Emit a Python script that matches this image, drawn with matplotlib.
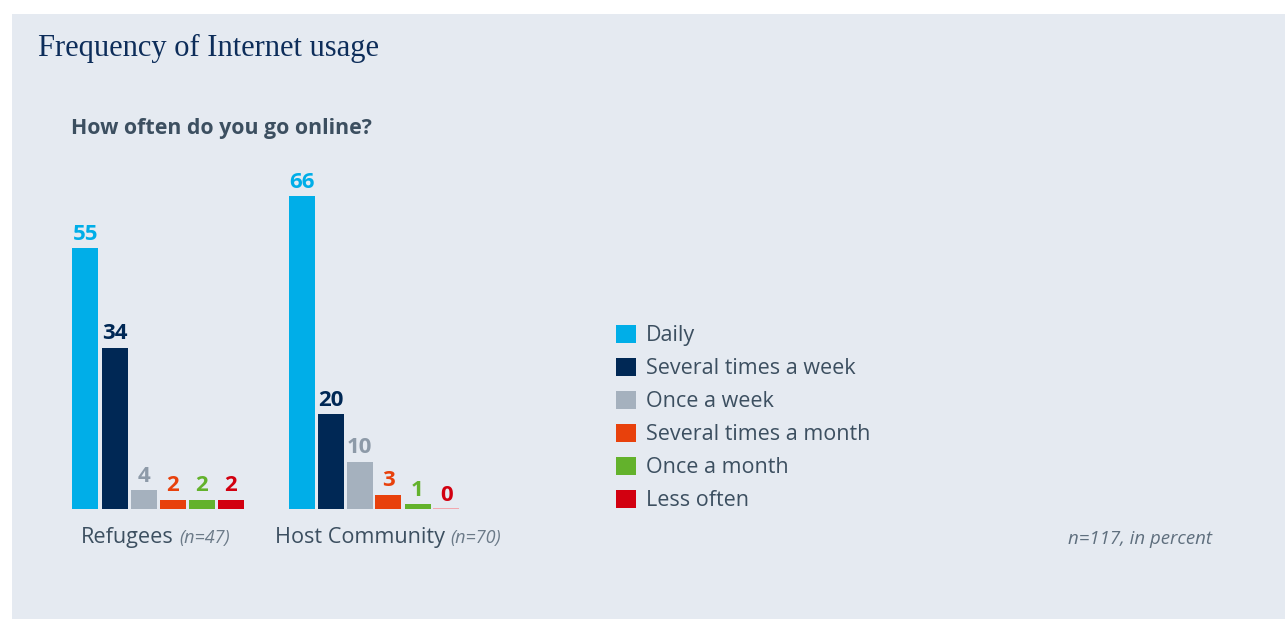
import matplotlib

matplotlib.use('Agg')
import matplotlib.pyplot as plt
from matplotlib.patches import Patch, Rectangle
from matplotlib.offsetbox import TextArea, HPacker, AnnotationBbox

plt.rcParams['font.family'] = ['Open Sans', 'DejaVu Sans']

groups = ['Refugees', 'Host Community']
group_n = ['(n=47)', '(n=70)']
answers = ['Daily', 'Several times a week', 'Once a week',
           'Several times a month', 'Once a month', 'Less often']
refugees = [55, 34, 4, 2, 2, 2]
host_community = [66, 20, 10, 3, 1, 0]

bar_colors = ['#00aee8', '#002855', '#a5b1be', '#e8410c', '#63b22c', '#d20010']
label_colors = ['#00aee8', '#002855', '#8d9aa8', '#e8410c', '#63b22c', '#d20010']

BG = '#e5eaf1'
TEXT = '#3c4f60'

W, H = 1285, 619
fig = plt.figure(figsize=(W / 100, H / 100), dpi=100)
fig.patch.set_facecolor('white')
fig.patches.append(Rectangle((12 / W, 0), 1 - 12 / W, 1 - 14 / H,
                             transform=fig.transFigure, facecolor=BG,
                             edgecolor='none', zorder=-10))

fig.text(38 / W, 1 - 56 / H, 'Frequency of Internet usage',
         family='Liberation Serif', fontsize=22, color='#0d2d5a', va='baseline')
fig.text(71 / W, 1 - 134 / H, 'How often do you go online?',
         fontsize=15.4, fontweight='bold', color=TEXT, va='baseline')
fig.text(1212 / W, 1 - 544 / H, 'n=117, in percent',
         fontsize=13.4, style='italic', color='#5f6f7e', ha='right', va='baseline')

ax = fig.add_axes([50 / W, 110 / H, 432 / W, 332 / H])
ax.set_xlim(-0.5, 1.5)
ax.set_ylim(0, 70)
ax.axis('off')

step = 29 / 216
width = 26 / 216
series = [refugees, host_community]
for gi, vals in enumerate(series):
    for i, v in enumerate(vals):
        x = gi + (i - 2.5) * step
        if v == 0:
            # zero share still gets a faint stub on the baseline
            ax.bar(x, 0.15, width=width, color='#f2a7ae', linewidth=0)
        else:
            ax.bar(x, v, width=width, color=bar_colors[i], linewidth=0)
        ax.annotate(f'{v}', (x, v), xytext=(0, 6), textcoords='offset points',
                    ha='center', va='baseline', fontsize=16, fontweight='bold',
                    color=label_colors[i])

# group captions sit slightly off-centre under their bars
caption_shift = [-2, 10]
for gi, (name, n) in enumerate(zip(groups, group_n)):
    box = HPacker(children=[
        TextArea(name, textprops=dict(fontsize=15.6, color=TEXT)),
        TextArea(n, textprops=dict(fontsize=13, style='italic', color='#6b7a88')),
    ], align='baseline', pad=0, sep=4)
    ab = AnnotationBbox(box, (gi, 0), xybox=(caption_shift[gi], -13), xycoords='data',
                        boxcoords='offset points', box_alignment=(0.5, 1),
                        frameon=False, pad=0)
    ax.add_artist(ab)

handles = [Patch(facecolor=c, edgecolor='none') for c in bar_colors]
fig.legend(handles, answers, loc='upper left',
           bbox_to_anchor=(616 / W, 1 - 325 / H), frameon=False,
           fontsize=15.5, handlelength=0.92, handleheight=0.92,
           handletextpad=0.46, labelspacing=0.53, borderpad=0, borderaxespad=0,
           labelcolor=TEXT)

fig.savefig('out.png', dpi=100, facecolor='white')
